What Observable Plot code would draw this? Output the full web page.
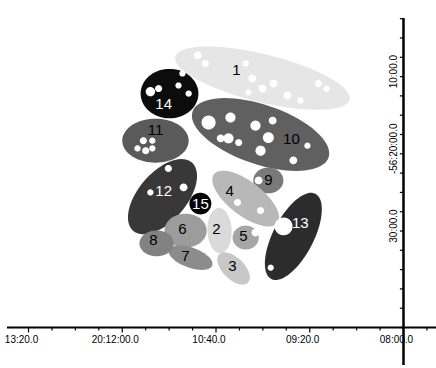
<!DOCTYPE html>
<html>
<head>
<meta charset="utf-8">
<script src="https://cdn.jsdelivr.net/npm/d3@7"></script>
<script src="https://cdn.jsdelivr.net/npm/@observablehq/plot@0.6"></script>
<style>
  html, body { margin: 0; padding: 0; background: #fff; }
  #chart svg { display: block; }
</style>
</head>
<body>
<div id="chart"></div>
<script>
// ---- data (axis units) ----
const ids      = [1, 10, 14, 11, 12, 9, 4, 13, 6, 7, 8, 2, 5, 3, 15];
const centerX  = [59.9, 59.4, 36.1, 32.5, 34.3, 61.4, 55.6, 67.8, 40.2, 41.5, 32.8, 48.9, 55.6, 52.5, 44.0];
const centerY  = [64.6, 50.0, 60.6, 48.4, 33.9, 38.1, 33.4, 23.6, 25.1, 18.1, 21.8, 25.1, 23.3, 15.3, 32.1];
const semiMajor= [23.0, 18.4, 7.4, 8.5, 11.6, 3.85, 10.3, 12.4, 5.4, 5.9, 4.4, 5.9, 3.35, 5.2, 2.8];
const semiMinor= [6.2, 7.7, 6.4, 5.7, 6.2, 3.35, 4.4, 5.2, 4.4, 2.6, 3.35, 3.1, 3.1, 2.8, 2.8];
const tiltDeg  = [-14, -19, 0, 0, 50, 0, -38, 63, 0, -20, 0, 92, 0, -45, 0];
const shade    = ["#e6e6e6", "#606060", "#0c0c0c", "#5a5a5a", "#383838", "#7a7a7a", "#b8b8b8", "#2c2c2c",
                  "#9c9c9c", "#8c8c8c", "#828282", "#dadada", "#a6a6a6", "#c8c8c8", "#000000"];
const labelX   = [53.2, 67.3, 34.6, 32.5, 34.6, 61.4, 51.5, 69.6, 39.4, 40.2, 32.0, 48.1, 55.0, 52.2, 44.0];
const labelY   = [66.6, 48.7, 57.8, 51.0, 35.2, 38.1, 35.2, 26.9, 25.6, 18.6, 22.5, 25.6, 23.6, 15.8, 31.9];
const labelInk = ["#000", "#000", "#fff", "#000", "#fff", "#000", "#000", "#fff",
                  "#000", "#000", "#000", "#000", "#000", "#000", "#fff"];

// white gaps inside the regions
const holeX = [43.3, 45.3, 55.6, 57.3, 59.9, 62.7, 66.3, 69.6, 74.2, 76.3, 56.3,
               39.4, 38.4, 41.0, 31.2, 33.3,
               29.4, 31.7, 27.9, 30.0, 31.7,
               46.1, 51.7, 49.2, 51.2, 53.8, 58.1, 62.5, 61.4, 59.4, 67.8, 71.4,
               35.8, 31.2, 39.7,
               53.5, 59.4,
               65.3, 62.0,
               58.9, 58.1];
const holeY = [70.5, 68.4, 68.4, 64.5, 61.9, 63.2, 60.1, 58.8, 63.2, 61.9, 60.9,
               65.8, 62.7, 60.6, 61.1, 61.9,
               48.4, 48.4, 46.4, 45.8, 46.4,
               53.1, 54.4, 49.0, 49.0, 47.9, 52.3, 53.6, 49.2, 45.8, 43.3, 47.1,
               41.2, 35.0, 36.3,
               32.4, 30.3,
               26.2, 15.5,
               38.1, 24.6];
const holeR = [1.0, 0.9, 0.8, 1.0, 1.0, 1.0, 1.0, 0.8, 0.9, 0.8, 0.8,
               0.8, 0.8, 0.8, 1.2, 0.9,
               0.9, 0.8, 0.8, 0.9, 0.8,
               1.8, 1.3, 1.0, 1.3, 0.9, 1.3, 1.0, 1.4, 1.3, 1.0, 0.8,
               0.9, 0.8, 1.0,
               0.9, 0.9,
               2.3, 0.8,
               1.0, 1.0];

const xDomain = [-5.38, 104.45];
const yDomain = [-9.84, 80.05];
const xMajor = [0, 24, 48, 72, 96];
const xTickLabels = ["13:20.0", "20:12:00.0", "10:40.0", "09:20.0", "08:00.0"];
const xMinor = d3.range(0, 103, 6);
const yMajor = [25, 45, 65];
const yTickLabels = ["30:00.0", "-56:20:00.0", "10:00.0"];
const yMinor = d3.range(0, 81, 5);
const axisX0 = 96; // vertical axis position (x value)
const axisY0 = 0;  // horizontal axis position (y value)

// ---- build outlines ----
function outline(id, cx, cy, a, b, deg, fill) {
  const th = deg * Math.PI / 180, pts = [];
  for (let k = 0; k < 72; k++) {
    const t = 2 * Math.PI * k / 72;
    pts.push({
      id, fill,
      x: cx + a * Math.cos(t) * Math.cos(th) - b * Math.sin(t) * Math.sin(th),
      y: cy + a * Math.cos(t) * Math.sin(th) + b * Math.sin(t) * Math.cos(th)
    });
  }
  return pts;
}
const regionPts = ids.flatMap((id, i) =>
  outline(id, centerX[i], centerY[i], semiMajor[i], semiMinor[i], tiltDeg[i], shade[i]));
const holePts = holeX.flatMap((x, i) => outline("h" + i, x, holeY[i], holeR[i], holeR[i], 0, "#ffffff"));
const labels = ids.map((id, i) => ({id, x: labelX[i], y: labelY[i], ink: labelInk[i]}));

const chart = Plot.plot({
  width: 436,
  height: 368,
  marginLeft: 7,
  marginRight: 0,
  marginTop: 18,
  marginBottom: 3,
  style: {background: "#fff", fontFamily: "'Liberation Sans', Arial, sans-serif"},
  x: {domain: xDomain, axis: null},
  y: {domain: yDomain, axis: null},
  color: {type: "identity"},
  marks: [
    Plot.line(regionPts, {x: "x", y: "y", z: "id", fill: "fill", stroke: "none", curve: "linear-closed"}),
    Plot.line(holePts, {x: "x", y: "y", z: "id", fill: "fill", stroke: "none", curve: "linear-closed"}),
    Plot.text(labels, {x: "x", y: "y", text: d => String(d.id), fill: "ink", fontSize: 15}),
    Plot.text(xMajor, {x: d => d, y: axisY0, text: (d, i) => xTickLabels[i], dy: 12, dx: -7, fontSize: 10, fill: "#000"}),
    Plot.text(yMajor, {x: axisX0, y: d => d, text: (d, i) => yTickLabels[i], rotate: -90, dx: -10, dy: -5, fontSize: 10, fill: "#000"}),
    Plot.ruleX(xMinor, {x: d => d, y1: axisY0, y2: d => xMajor.includes(d) ? -1.4 : -0.9, stroke: "#000", strokeWidth: 1.2}),
    Plot.ruleY(yMinor, {y: d => d, x1: axisX0, x2: 95.2, stroke: "#000", strokeWidth: 1.2}),
    Plot.ruleY([axisY0], {stroke: "#000", strokeWidth: 2}),
    Plot.ruleX([axisX0], {stroke: "#000", strokeWidth: 2.5})
  ]
});
document.getElementById("chart").appendChild(chart);
</script>
</body>
</html>
